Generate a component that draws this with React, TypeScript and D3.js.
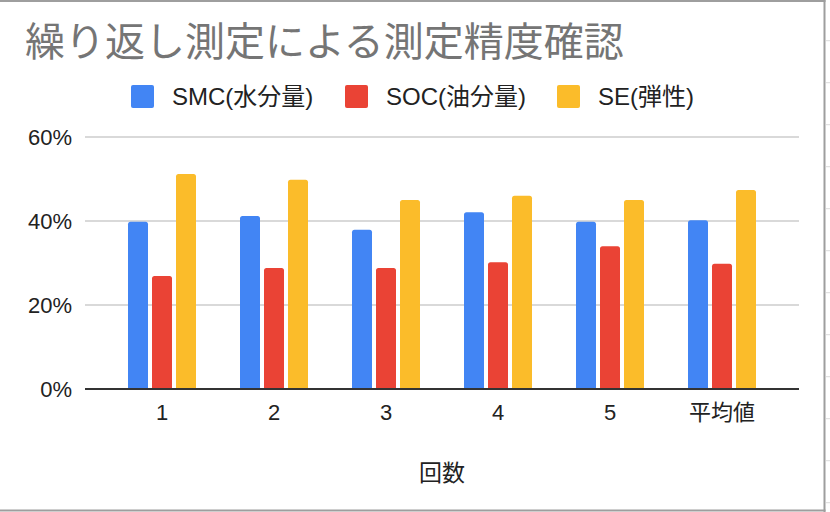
import React from "react";
import * as d3 from "d3";

const categories = ["1", "2", "3", "4", "5", "平均値"];
const seriesNames = ["SMC(水分量)", "SOC(油分量)", "SE(弾性)"];
const smcValues = [39.8, 41.2, 37.9, 42.1, 39.8, 40.2];
const socValues = [26.9, 28.8, 28.8, 30.2, 34.0, 29.8];
const seValues = [51.2, 49.8, 45.0, 46.0, 45.0, 47.4];
const yTicks = [0, 20, 40, 60];
const colors = ["#4285F4", "#EA4335", "#FBBC2A"];

const W = 830;
const H = 512;
const FONT = "'Liberation Sans', Arial, 'Noto Sans CJK JP', sans-serif";

// rounded top corners only
const barPath = (x: number, y: number, w: number, h: number, r: number) =>
  `M${x},${y + h}V${y + r}Q${x},${y} ${x + r},${y}H${x + w - r}Q${x + w},${y} ${x + w},${y + r}V${y + h}Z`;

const App: React.FC = () => {
  const series = [smcValues, socValues, seValues];

  const x = d3
    .scaleBand<string>()
    .domain(categories)
    .range([85, 799])
    .paddingInner(0)
    .paddingOuter(0.1875);

  const inner = d3
    .scaleBand<string>()
    .domain(seriesNames)
    .range([22, 90])
    .paddingInner(1 / 6)
    .paddingOuter(0);

  const y = d3.scaleLinear().domain([0, 60]).range([389, 137]);

  const legendX = [131, 345, 557];

  // faint sheet grid marks outside the chart frame
  const sheetMarks = d3.range(12).map((i) => 40.7 + i * 42);

  return (
    <div style={{ position: "absolute", left: 0, top: 0 }}>
      <svg width={W} height={H} style={{ display: "block", background: "#fff" }}>
        {sheetMarks.map((m, i) => (
          <line key={i} x1={826} x2={830} y1={m} y2={m} stroke="#dadada" strokeWidth={1} />
        ))}

        {/* chart frame */}
        <line x1={0} x2={825.5} y1={1} y2={1} stroke="#9e9e9e" strokeWidth={2} />
        <line x1={824.5} x2={824.5} y1={0} y2={512} stroke="#9e9e9e" strokeWidth={2} />
        <line x1={0} x2={825.5} y1={510.5} y2={510.5} stroke="#9e9e9e" strokeWidth={2} />

        <text x={25} y={56} fontFamily={FONT} fontSize={40} fill="#757575">
          繰り返し測定による測定精度確認
        </text>

        {seriesNames.map((s, i) => (
          <g key={s} transform={`translate(${legendX[i]},85)`}>
            <rect width={23} height={23} rx={2} fill={colors[i]} />
            <text x={41} y={19.5} fontFamily={FONT} fontSize={24} fill="#222">
              {s}
            </text>
          </g>
        ))}

        {yTicks.map((t) => (
          <g key={t}>
            {t !== 0 && (
              <line x1={85} x2={799} y1={y(t)} y2={y(t)} stroke="#cccccc" strokeWidth={1.3} />
            )}
            <text
              x={72}
              y={y(t)}
              dy="0.36em"
              textAnchor="end"
              fontFamily={FONT}
              fontSize={22}
              fill="#222"
            >
              {`${t}%`}
            </text>
          </g>
        ))}

        {categories.map((c, ci) => (
          <g key={c} transform={`translate(${x(c)},0)`}>
            {series.map((vals, si) => {
              const bx = inner(seriesNames[si])!;
              const by = y(vals[ci]);
              return (
                <path
                  key={si}
                  d={barPath(bx, by, inner.bandwidth(), y(0) - by, 2.5)}
                  fill={colors[si]}
                />
              );
            })}
            <text
              x={x.bandwidth() / 2}
              y={420}
              textAnchor="middle"
              fontFamily={FONT}
              fontSize={22}
              fill="#222"
            >
              {c}
            </text>
          </g>
        ))}

        <line x1={85} x2={799} y1={389} y2={389} stroke="#333" strokeWidth={2} />

        <text
          x={(85 + 799) / 2}
          y={481}
          textAnchor="middle"
          fontFamily={FONT}
          fontSize={23}
          fill="#222"
        >
          回数
        </text>
      </svg>
    </div>
  );
};

export default App;
